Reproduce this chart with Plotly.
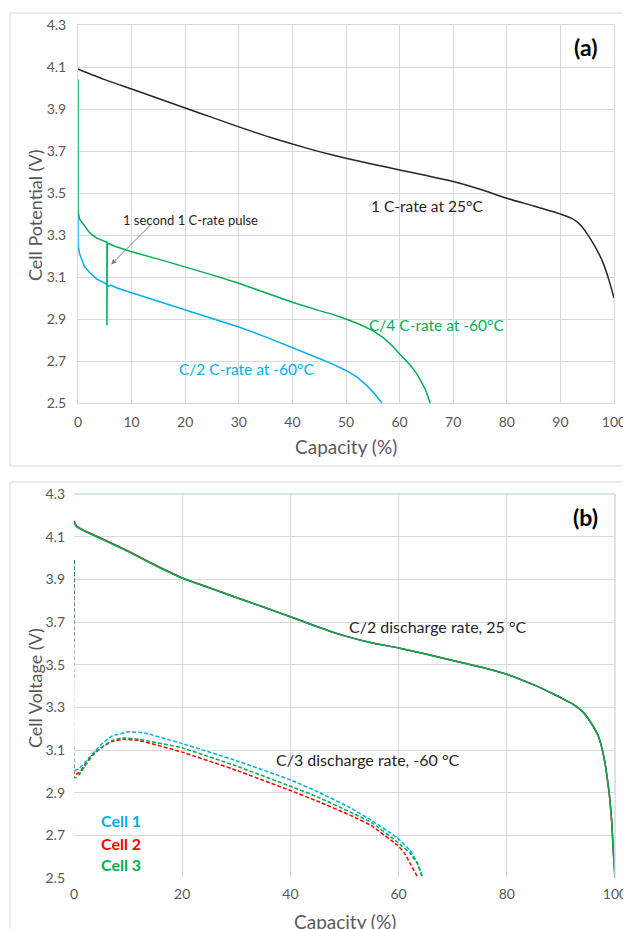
import plotly.graph_objects as go

W, H = 631, 929
OFF = 8  # page body margin
FONT = "Lato"
GREY = "#595959"
GRID = "#d9d9d9"
BLUE = "#00B0F0"
GREEN = "#00B050"
RED = "#FF0000"

# ---------------- Panel (a) data ----------------
cap_1c = [0, 5, 10, 15, 20, 25, 30, 35, 40, 45, 50, 55, 60, 65, 70, 75, 80, 85, 90, 92, 93,
          94, 95, 96, 97, 98, 99, 100]
v_1c = [4.09, 4.04, 3.995, 3.95, 3.905, 3.86, 3.815, 3.772, 3.733, 3.697, 3.665, 3.637, 3.61,
        3.583, 3.555, 3.518, 3.475, 3.438, 3.40, 3.38, 3.365, 3.34, 3.305, 3.265, 3.22, 3.165,
        3.09, 3.00]

cap_c4 = [0, 0, 0.3, 0.8, 1.5, 2.2, 3.5, 5.4, 5.4, 5.45, 7, 10, 15, 20, 25, 30, 35, 40, 45,
          47.5, 50, 52.5, 55, 57, 58.5, 60, 61, 62, 63.2, 64, 64.8, 65.7]
v_c4 = [4.04, 3.41, 3.375, 3.357, 3.33, 3.31, 3.285, 3.265, 2.87, 3.262, 3.245, 3.22, 3.185,
        3.148, 3.11, 3.07, 3.025, 2.98, 2.94, 2.922, 2.9, 2.875, 2.845, 2.81, 2.775, 2.735,
        2.71, 2.68, 2.64, 2.605, 2.565, 2.5]

cap_c2 = [0, 0, 0.3, 0.7, 1.2, 2.2, 3.5, 5.3, 5.5, 6.2, 7, 10, 15, 20, 25, 30, 35, 40, 45,
          47.5, 50, 52, 53.8, 55.3, 56.7]
v_c2 = [3.385, 3.25, 3.21, 3.18, 3.15, 3.12, 3.09, 3.068, 3.055, 3.06, 3.05, 3.025, 2.985,
        2.945, 2.905, 2.862, 2.815, 2.765, 2.712, 2.685, 2.655, 2.625, 2.585, 2.545, 2.5]

# ---------------- Panel (b) data ----------------
cap_25 = [0, 0.5, 2, 5, 10, 15, 20, 25, 30, 35, 40, 45, 50, 55, 60, 65, 70, 75, 80, 85, 88,
          90, 92, 94, 95.5, 97, 98, 98.5, 99, 99.4, 99.7, 100]
v_25_cell1 = [4.165, 4.145, 4.125, 4.09, 4.03, 3.965, 3.906, 3.86, 3.815, 3.77, 3.725, 3.678,
              3.635, 3.603, 3.578, 3.55, 3.52, 3.49, 3.455, 3.405, 3.37, 3.345, 3.318, 3.28,
              3.23, 3.16, 3.06, 2.98, 2.88, 2.76, 2.62, 2.5]
v_25_cell2 = [4.175, 4.15, 4.128, 4.093, 4.033, 3.967, 3.907, 3.861, 3.815, 3.77, 3.725, 3.678,
              3.635, 3.603, 3.578, 3.55, 3.52, 3.49, 3.455, 3.405, 3.37, 3.345, 3.318, 3.28,
              3.23, 3.16, 3.06, 2.98, 2.88, 2.76, 2.62, 2.5]
v_25_cell3 = [4.165, 4.147, 4.126, 4.091, 4.031, 3.966, 3.906, 3.86, 3.815, 3.77, 3.725, 3.678,
              3.635, 3.603, 3.578, 3.55, 3.52, 3.49, 3.455, 3.405, 3.37, 3.345, 3.318, 3.28,
              3.23, 3.16, 3.06, 2.98, 2.88, 2.76, 2.62, 2.5]

cap_m60_cell1 = [0, 0, 0.2, 1, 2, 3.5, 5, 7, 10, 13, 20, 30, 40, 45, 51, 55, 59.7, 62.1, 63.5, 64.5]
v_m60_cell1 = [3.99, 3.01, 3.005, 3.015, 3.04, 3.085, 3.125, 3.165, 3.185, 3.18, 3.13, 3.05,
               2.96, 2.905, 2.83, 2.77, 2.69, 2.63, 2.57, 2.5]
cap_m60_cell2 = [0, 0, 0.3, 1, 2, 3.5, 5, 7, 9, 12, 20, 30, 40, 45, 51, 55, 59.7, 61, 62.1, 63.6]
v_m60_cell2 = [3.99, 2.99, 2.985, 2.995, 3.03, 3.08, 3.11, 3.14, 3.15, 3.145, 3.09, 3.005,
               2.91, 2.86, 2.795, 2.745, 2.655, 2.62, 2.57, 2.5]
cap_m60_cell3 = [0, 0, 0.3, 1, 2, 3.5, 5, 7, 9, 12, 20, 30, 40, 45, 51, 55, 59.7, 62.1, 63.5, 64.4]
v_m60_cell3 = [3.99, 2.975, 2.97, 2.985, 3.025, 3.075, 3.11, 3.145, 3.157, 3.15, 3.11, 3.025,
               2.93, 2.88, 2.81, 2.76, 2.67, 2.617, 2.565, 2.5]

y_ticks = [2.5, 2.7, 2.9, 3.1, 3.3, 3.5, 3.7, 3.9, 4.1, 4.3]
x_ticks_a = [0, 10, 20, 30, 40, 50, 60, 70, 80, 90, 100]
x_ticks_b = [0, 20, 40, 60, 80, 100]


def px_x(p):
    return (p - OFF) / W


def px_y(p):
    return 1 - (p - OFF) / H


fig = go.Figure()

SPL = dict(shape="spline", smoothing=0.6)

# Panel (a) traces
fig.add_trace(go.Scatter(x=cap_1c, y=v_1c, mode="lines",
                         line=dict(color="#262626", width=1.5, **SPL),
                         xaxis="x", yaxis="y", showlegend=False))
fig.add_trace(go.Scatter(x=cap_c2, y=v_c2, mode="lines",
                         line=dict(color=BLUE, width=1.5),
                         xaxis="x", yaxis="y", showlegend=False))
fig.add_trace(go.Scatter(x=cap_c4, y=v_c4, mode="lines",
                         line=dict(color=GREEN, width=1.5),
                         xaxis="x", yaxis="y", showlegend=False))

# Panel (b) traces
for cx, vy, col in [(cap_m60_cell1, v_m60_cell1, BLUE), (cap_m60_cell2, v_m60_cell2, RED),
                    (cap_m60_cell3, v_m60_cell3, GREEN)]:
    fig.add_trace(go.Scatter(x=cx, y=vy, mode="lines",
                             line=dict(color=col, width=1.5, dash="4px,2px",
                                       shape="spline", smoothing=0.3),
                             xaxis="x2", yaxis="y2", showlegend=False))
for vy, col in [(v_25_cell1, BLUE), (v_25_cell2, RED), (v_25_cell3, GREEN)]:
    fig.add_trace(go.Scatter(x=cap_25, y=vy, mode="lines", line=dict(color=col, width=1.5, **SPL),
                             xaxis="x2", yaxis="y2", showlegend=False))

axis_common = dict(showgrid=True, gridcolor=GRID, gridwidth=1, zeroline=False, automargin=False,
                   tickfont=dict(family=FONT, size=14, color=GREY), ticks="")

fig.update_layout(
    width=W, height=H, autosize=False,
    margin=dict(l=0, r=0, t=0, b=0, pad=0),
    paper_bgcolor="white", plot_bgcolor="white",
    font=dict(family=FONT),
    xaxis=dict(domain=[px_x(78), px_x(614)], range=[0, 100], tickvals=x_ticks_a,
               anchor="y", showline=True, linecolor=GRID, mirror=True,
               ticklabelstandoff=6, **axis_common),
    yaxis=dict(domain=[px_y(403), px_y(25)], range=[2.5, 4.3], tickvals=y_ticks,
               tickformat=".1f", anchor="x", showline=True, linecolor=GRID, mirror=True,
               ticklabelstandoff=8, **axis_common),
    xaxis2=dict(domain=[px_x(74), px_x(615)], range=[0, 100], tickvals=x_ticks_b,
                anchor="y2", showline=False, ticklabelstandoff=6, **axis_common),
    yaxis2=dict(domain=[px_y(878), px_y(494)], range=[2.5, 4.3], tickvals=y_ticks,
                tickformat=".1f", anchor="x2", showline=False, ticklabelstandoff=8,
                **axis_common),
)

shapes = [
    # panel frames
    dict(type="rect", xref="paper", yref="paper", x0=px_x(10), x1=px_x(632),
         y0=px_y(466), y1=px_y(13), line=dict(color=GRID, width=1)),
    dict(type="rect", xref="paper", yref="paper", x0=px_x(10), x1=px_x(632),
         y0=px_y(940), y1=px_y(482), line=dict(color=GRID, width=1)),
    # light blue plot border (b) top & right
    dict(type="line", xref="x2 domain", yref="y2 domain", x0=0, x1=1, y0=1, y1=1,
         line=dict(color="#c9daf0", width=1.5)),
    dict(type="line", xref="x2 domain", yref="y2 domain", x0=1, x1=1, y0=0, y1=1,
         line=dict(color="#c9daf0", width=1.5)),
]
fig.update_layout(shapes=shapes)

ann = []
# axis titles
ann.append(dict(text="Cell Potential (V)", xref="paper", yref="paper", x=px_x(35), y=px_y(215),
                textangle=-90, showarrow=False, font=dict(family=FONT, size=18, color=GREY),
                xanchor="center", yanchor="middle"))
ann.append(dict(text="Capacity (%)", xref="paper", yref="paper", x=px_x(346), y=px_y(447),
                showarrow=False, font=dict(family=FONT, size=19, color=GREY),
                xanchor="center", yanchor="middle"))
ann.append(dict(text="Cell Voltage (V)", xref="paper", yref="paper", x=px_x(35), y=px_y(688),
                textangle=-90, showarrow=False, font=dict(family=FONT, size=18, color=GREY),
                xanchor="center", yanchor="middle"))
ann.append(dict(text="Capacity (%)", xref="paper", yref="paper", x=px_x(345), y=px_y(921),
                showarrow=False, font=dict(family=FONT, size=19, color=GREY),
                xanchor="center", yanchor="middle"))

# panel (a) labels
ann.append(dict(text="<b>(a)</b>", x=94.6, y=4.195, xref="x", yref="y", showarrow=False,
                font=dict(family=FONT, size=23, color="black")))
ann.append(dict(text="1 C-rate at 25°C", x=65.2, y=3.44, xref="x", yref="y", showarrow=False,
                font=dict(family=FONT, size=15.5, color="#262626")))
ann.append(dict(text="C/4 C-rate at -60°C", x=67, y=2.87, xref="x", yref="y", showarrow=False,
                font=dict(family=FONT, size=15.5, color=GREEN)))
ann.append(dict(text="C/2 C-rate at -60°C", x=31.5, y=2.66, xref="x", yref="y", showarrow=False,
                font=dict(family=FONT, size=15.5, color=BLUE)))
ann.append(dict(text="1 second 1 C-rate pulse", x=21, y=3.37, xref="x", yref="y",
                showarrow=False, font=dict(family=FONT, size=13, color="#262626")))
ann.append(dict(text="", x=6.2, y=3.16, xref="x", yref="y", ax=13.8, ay=3.355, axref="x",
                ayref="y", showarrow=True, arrowhead=2, arrowsize=1, arrowwidth=1,
                arrowcolor="#7f7f7f"))

# panel (b) labels
ann.append(dict(text="<b>(b)</b>", x=94.5, y=4.19, xref="x2", yref="y2", showarrow=False,
                font=dict(family=FONT, size=23, color="black")))
ann.append(dict(text="C/2 discharge rate, 25 °C", x=67.3, y=3.68, xref="x2", yref="y2",
                showarrow=False, font=dict(family=FONT, size=16, color="#262626")))
ann.append(dict(text="C/3 discharge rate, -60 °C", x=54.4, y=3.055, xref="x2", yref="y2",
                showarrow=False, font=dict(family=FONT, size=16, color="#262626")))
for txt, col, yp in [("Cell 1", BLUE, 820), ("Cell 2", RED, 843), ("Cell 3", GREEN, 864)]:
    ann.append(dict(text=f"<b>{txt}</b>", xref="paper", yref="paper", x=px_x(121), y=px_y(yp),
                    showarrow=False, font=dict(family=FONT, size=16, color=col),
                    xanchor="center", yanchor="middle"))

fig.update_layout(annotations=ann)

fig.write_html("out.html")
